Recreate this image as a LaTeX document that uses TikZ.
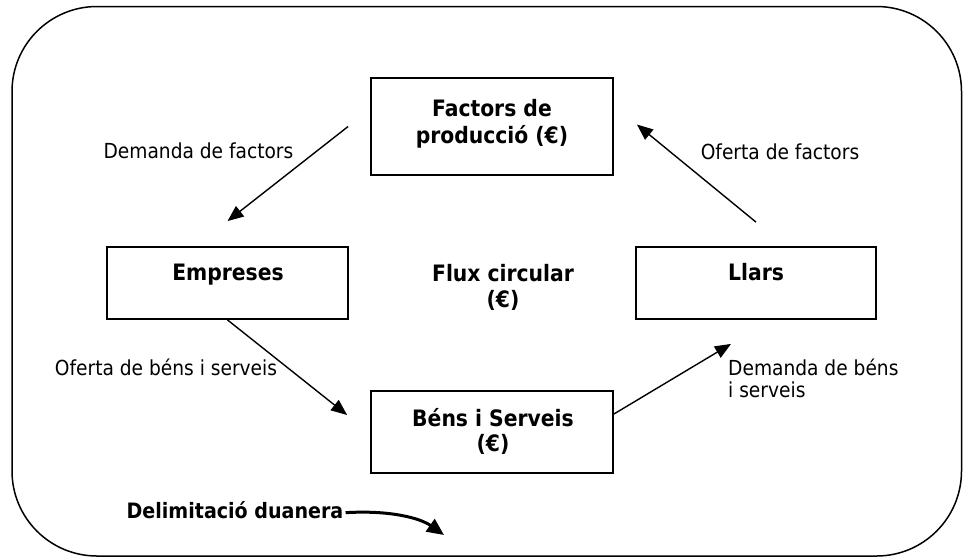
\documentclass[tikz,border=0pt]{standalone}
\usepackage{fontspec}
\setmainfont{DejaVu Sans Condensed}
\usetikzlibrary{arrows.meta}
\begin{document}
\begin{tikzpicture}[x=1pt,y=-1pt,
  box/.style={draw, line width=1.8pt, inner sep=0pt},
  lbl/.style={font=\fontsize{20.7}{22}\selectfont, inner sep=0pt, anchor=base},
  blbl/.style={font=\fontsize{22.6}{25}\selectfont\bfseries, inner sep=0pt, anchor=base, align=center},
  conn/.style={line width=1.4pt, -{Triangle[length=16pt,width=13pt]}},
  frame/.style={draw, line width=1.5pt, rounded corners=85pt}]
\useasboundingbox (0,0) rectangle (963,558);
\draw[frame] (12,6.5) rectangle (961.5,556);

% boxes
\node[box, minimum width=242pt, minimum height=97pt] (fac) at (492,126.5) {};
\node[box, minimum width=241pt, minimum height=72pt] (emp) at (227.5,283) {};
\node[box, minimum width=240pt, minimum height=72pt] (llars) at (756,283) {};
\node[box, minimum width=242pt, minimum height=82pt] (bens) at (492,432) {};

% box texts (anchor base = baseline of last line)
\node[blbl, font=\fontsize{22.6}{26.5}\selectfont\bfseries] (tfac) at (492,143) {Factors de\\producció (€)};
\node[blbl] (temp) at (228,280) {Empreses};
\node[blbl] (tllars) at (756,280) {Llars};
\node[blbl, font=\fontsize{22.6}{26}\selectfont\bfseries] (tflux) at (503,307) {Flux circular\\(€)};
\node[blbl] (tbens) at (493,451) {Béns i Serveis\\(€)};

% connector labels
\node[lbl] (l1) at (198.5,158) {Demanda de factors};
\node[lbl] (l2) at (780,159) {Oferta de factors};
\node[lbl] (l3) at (166,375) {Oferta de béns i serveis};
\node[lbl, anchor=base west, align=left] (l4) at (728,397) {Demanda de béns\\i serveis};
\node[blbl, font=\fontsize{21.2}{23}\selectfont\bfseries] (del) at (235,518) {Delimitació duanera};

% connectors
\draw[conn] ([xshift=-22pt]fac.west) -- ([yshift=25pt]emp.north);
\draw[conn] ([yshift=24pt]llars.north) -- ([xshift=23pt,yshift=2pt]fac.east);
\draw[conn] (emp.south) -- ([xshift=-23pt,yshift=17pt]bens.west);
\draw[conn] ([yshift=18pt]bens.east) -- ([xshift=-25pt,yshift=-24pt]llars.south);

\coordinate (delend) at (444,535);
\draw[line width=3pt, -{Triangle[length=17pt,width=15pt]}] ([xshift=2pt,yshift=-3pt]del.east) .. controls (390,510) and (420,518) .. (delend);
\end{tikzpicture}
\end{document}
